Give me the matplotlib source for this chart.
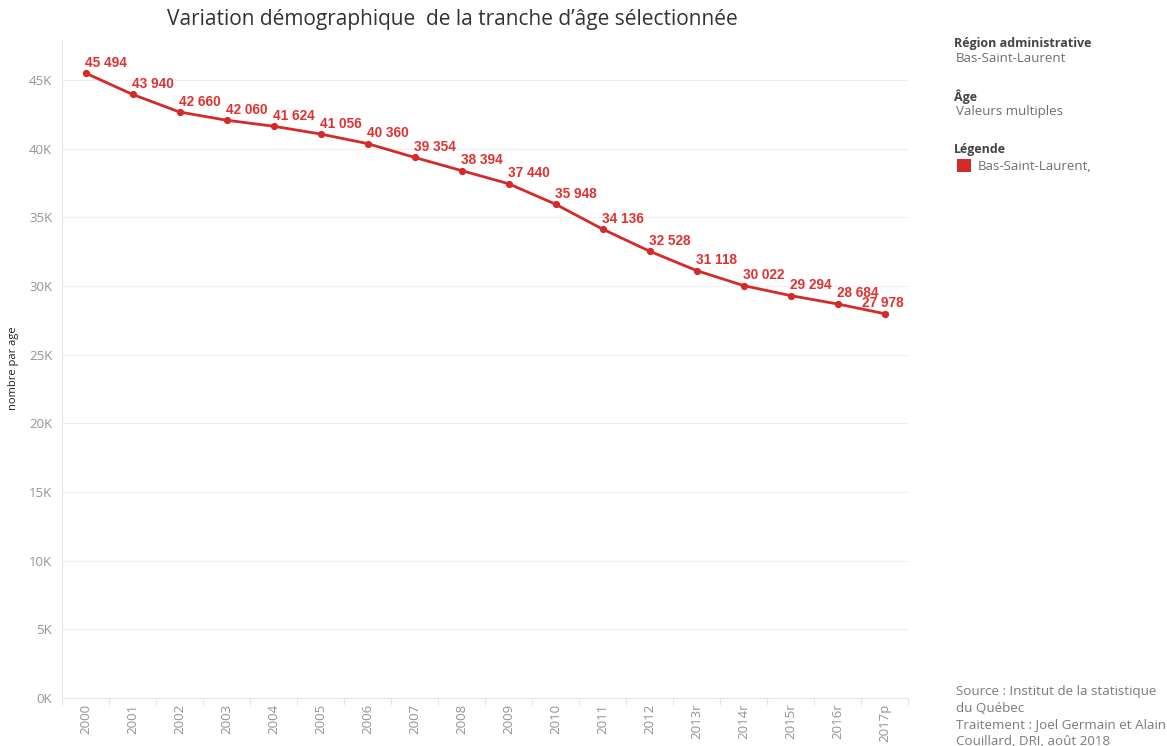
import matplotlib
matplotlib.use("Agg")
import matplotlib.pyplot as plt
from matplotlib.patches import Rectangle

years = ["2000", "2001", "2002", "2003", "2004", "2005", "2006", "2007", "2008",
         "2009", "2010", "2011", "2012", "2013r", "2014r", "2015r", "2016r", "2017p"]
population = [45494, 43940, 42660, 42060, 41624, 41056, 40360, 39354, 38394,
              37440, 35948, 34136, 32528, 31118, 30022, 29294, 28684, 27978]
y_ticks = [0, 5000, 10000, 15000, 20000, 25000, 30000, 35000, 40000, 45000]
y_tick_labels = ["0K", "5K", "10K", "15K", "20K", "25K", "30K", "35K", "40K", "45K"]

W, H = 1167, 746
fig = plt.figure(figsize=(W / 100, H / 100), dpi=100)
fig.patch.set_facecolor("white")

ax = fig.add_axes([62 / W, 1 - 698 / H, (908 - 62) / W, (698 - 40) / H])
x = list(range(len(years)))
red_line = "#d42a2a"
red_text = "#e0302f"
ax.plot(x, population, color=red_line, lw=2.0, marker="o", ms=4.2, zorder=3)
for xi, v in zip(x, population):
    dx = -16 if xi == len(years) - 1 else -0.5
    ax.annotate(f"{v:,}".replace(",", " "), (xi, v), xytext=(dx, 2.5),
                textcoords="offset points", ha="left", va="bottom",
                color=red_text, fontsize=9.8, fontweight="bold",
                family="Liberation Sans", zorder=4)

ax.set_xlim(-0.5, len(years) - 0.5)
ax.set_ylim(0, 47900)
ax.set_yticks(y_ticks)
ax.set_yticklabels(y_tick_labels)
ax.set_xticks(x)
ax.set_xticklabels(years, rotation=90, va="top", ha="center")
ax.set_xticks([i - 0.5 for i in range(len(years) + 1)], minor=True)
ax.tick_params(axis="x", which="major", length=0, pad=4, labelsize=9.5, labelcolor="#939393")
ax.tick_params(axis="x", which="minor", length=5, color="#e6e6e6", width=0.8)
ax.tick_params(axis="y", length=0, pad=7, labelsize=9.5, labelcolor="#939393")
for lab in ax.get_xticklabels() + ax.get_yticklabels():
    lab.set_family("Open Sans")
ax.grid(axis="y", color="#efefef", lw=0.8)
ax.set_axisbelow(True)
for s in ["top", "right"]:
    ax.spines[s].set_visible(False)
ax.spines["left"].set_color("#e6e6e6")
ax.spines["left"].set_linewidth(0.8)
ax.spines["bottom"].set_color("#e6e6e6")
ax.spines["bottom"].set_linewidth(0.8)

fig.text(14 / W, 1 - 368 / H, "nombre par age", rotation=90, ha="center", va="center",
         fontsize=8, color="#222222", family="Open Sans")

fig.text(452 / W, 1 - 20 / H, "Variation démographique  de la tranche d\u2019âge sélectionnée",
         ha="center", va="center", fontsize=15, color="#333333", family="Open Sans")

dark = "#444444"
gray = "#6e6e6e"
fig.text(954 / W, 1 - 44 / H, "Région administrative", ha="left", va="center",
         fontsize=9, fontweight="bold", color=dark, family="Open Sans")
fig.text(956 / W, 1 - 59 / H, "Bas-Saint-Laurent", ha="left", va="center",
         fontsize=9.5, color=gray, family="Open Sans")
fig.text(954 / W, 1 - 97 / H, "Âge", ha="left", va="center",
         fontsize=9, fontweight="bold", color=dark, family="Open Sans")
fig.text(956 / W, 1 - 112 / H, "Valeurs multiples", ha="left", va="center",
         fontsize=9.5, color=gray, family="Open Sans")
fig.text(954 / W, 1 - 150 / H, "Légende", ha="left", va="center",
         fontsize=9, fontweight="bold", color=dark, family="Open Sans")
fig.patches.append(Rectangle((957 / W, 1 - 172 / H), 14 / W, 13 / H,
                             transform=fig.transFigure, facecolor=red_line, edgecolor="none"))
fig.text(978 / W, 1 - 166 / H, "Bas-Saint-Laurent,", ha="left", va="center",
         fontsize=9.5, color=gray, family="Open Sans")

src_lines = ["Source : Institut de la statistique", "du Québec",
             "Traitement : Joel Germain et Alain", "Couillard, DRI, août 2018"]
for i, t in enumerate(src_lines):
    fig.text(956 / W, 1 - (692 + i * 16.5) / H, t, ha="left", va="center",
             fontsize=9.6, color="#7a7a7a", family="Open Sans")

fig.savefig("out.png", dpi=100, facecolor="white")
